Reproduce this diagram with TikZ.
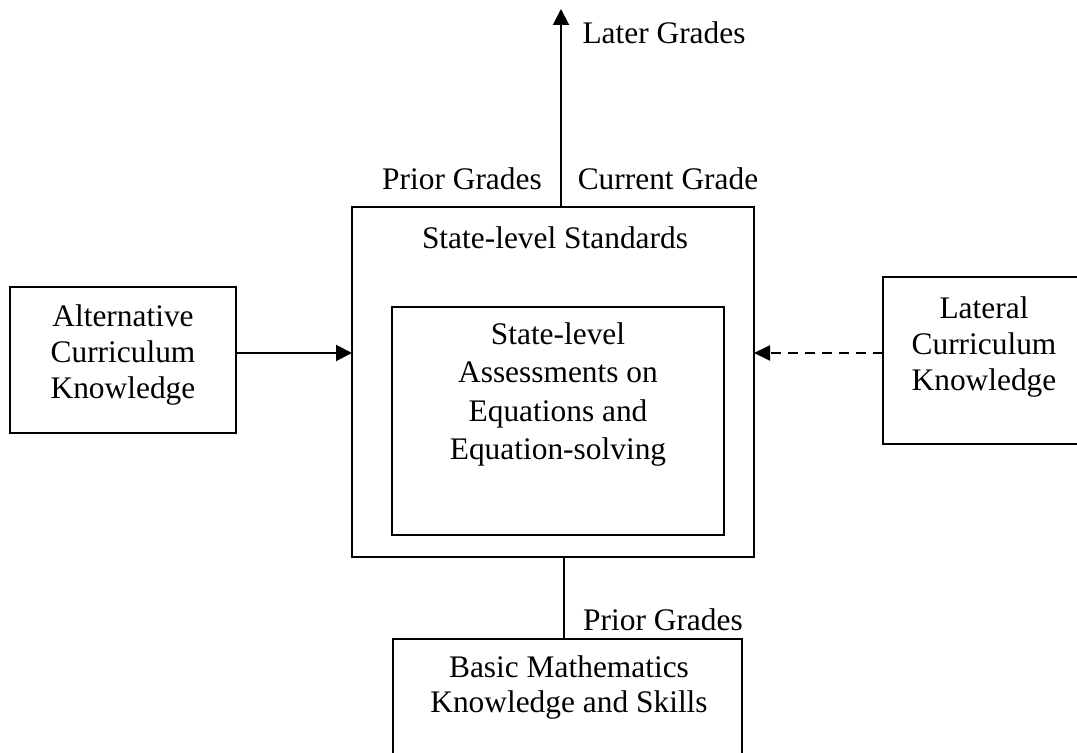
\documentclass[tikz,border=0pt]{standalone}
\usepackage{fontspec}
\setmainfont{Liberation Serif}
\usetikzlibrary{arrows.meta}
\begin{document}
\begin{tikzpicture}[x=0.5pt,y=-0.5pt,
  box/.style={draw=black,line width=1pt,rectangle,inner sep=0pt,outer sep=0pt},
  txt/.style={anchor=base,align=center,inner sep=0pt,font=\fontsize{15.7}{18}\selectfont},
  txtw/.style={anchor=base,align=center,inner sep=0pt,font=\fontsize{15.7}{19.3}\selectfont},
  arr/.style={line width=1pt,-{Triangle[length=8pt,width=8pt]}},
  darr/.style={line width=1pt,dash pattern=on 5pt off 3.5pt,-{Triangle[length=8pt,width=7.5pt]}}]
\useasboundingbox (0,0) rectangle (1077,753);
\clip (0,0) rectangle (1077,753);
% boxes
\node[box,minimum width=113pt,minimum height=73pt] (alt) at (123,360) {};
\node[box,minimum width=201pt,minimum height=175pt] (std) at (553,382) {};
\node[box,minimum width=166pt,minimum height=114pt] (ass) at (558,421) {};
\node[box,minimum width=106pt,minimum height=83.5pt] (lat) at (989,360.5) {};
\node[box,minimum width=174.5pt,minimum height=70.5pt] (bas) at (567.5,709.5) {};
% texts (anchor base = baseline of last line)
\node[txt] (altt) at (123,399) {Alternative\\Curriculum\\Knowledge};
\node[txt] (latt) at (984,391) {Lateral\\Curriculum\\Knowledge};
\node[txt] (stdt) at (555,249) {State-level Standards};
\node[txtw] (asst) at (558,460) {State-level\\Assessments on\\Equations and\\Equation-solving};
\node[txt,font=\fontsize{15.7}{17.5}\selectfont] (bast) at (569,712) {Basic Mathematics\\Knowledge and Skills};
\node[txt] (later) at (664,44) {Later Grades};
\node[txt] (prior1) at (462,190) {Prior Grades};
\node[txt] (cur) at (668,190) {Current Grade};
\node[txt] (prior2) at (663,631) {Prior Grades};
% connectors
\coordinate (topend) at (561,9);
\coordinate (vx) at (564,0);
\draw[arr] (std.north -| topend) -- (topend);
\draw[arr] ([yshift=3.5pt]alt.east) -- ([yshift=3.5pt]alt.east -| std.west);
\draw[darr] ([yshift=3.75pt]lat.west) -- ([yshift=3.75pt]lat.west -| std.east);
\draw[line width=1pt] (std.south -| vx) -- (bas.north -| vx);
\end{tikzpicture}
\end{document}
